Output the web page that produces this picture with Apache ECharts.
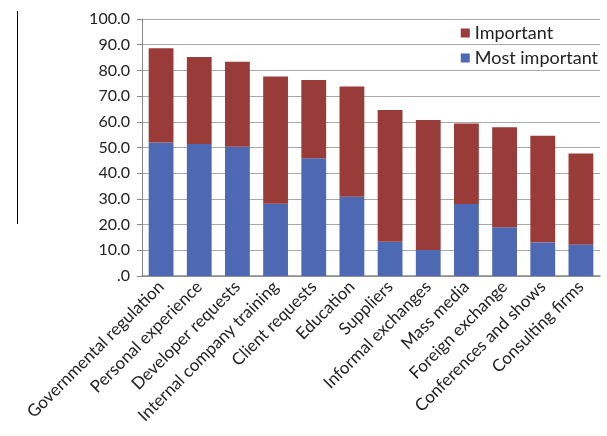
<!DOCTYPE html>
<html><head><meta charset="utf-8">
<script src="https://cdn.jsdelivr.net/npm/echarts@6/dist/echarts.min.js"></script>
<style>html,body{margin:0;padding:0;background:#fff}#c{width:607px;height:436px}</style>
</head><body><div id="c"></div>
<script>
const categories = ["Governmental regulation","Personal experience","Developer requests","Internal company training","Client requests","Education","Suppliers","Informal exchanges","Mass media","Foreign exchange","Conferences and shows","Consulting firms"];
const mostImportant = [51.9, 51.4, 50.3, 28.1, 45.8, 30.8, 13.3, 10.1, 28.0, 19.0, 13.1, 12.3];
const important = [36.7, 33.8, 33.1, 49.5, 30.5, 42.9, 51.3, 50.6, 31.3, 38.9, 41.5, 35.4];
const yTicks = [0, 10, 20, 30, 40, 50, 60, 70, 80, 90, 100];

const chart = echarts.init(document.getElementById('c'));
const font = 'Lato, "Open Sans", sans-serif';
chart.setOption({
  animation: false,
  backgroundColor: '#fff',
  grid: {left: 142, right: 7, top: 19, bottom: 160},
  legend: {
    data: ['Important', 'Most important'],
    orient: 'vertical', right: 4, top: 19,
    itemWidth: 9, itemHeight: 9, itemGap: 7,
    icon: 'rect',
    textStyle: {fontFamily: font, fontSize: 18, color: '#222'}
  },
  xAxis: {
    type: 'category', data: categories,
    axisLine: {lineStyle: {color: '#888', width: 1.5}},
    axisTick: {show: false},
    axisLabel: {rotate: 45, fontFamily: font, fontSize: 17, color: '#222', margin: 8, interval: 0}
  },
  yAxis: {
    type: 'value', min: 0, max: 100, interval: 10,
    axisLine: {show: true, lineStyle: {color: '#888', width: 1}},
    axisTick: {show: true, length: 5, lineStyle: {color: '#888'}},
    splitLine: {lineStyle: {color: '#a8a8a8', width: 1.2}},
    axisLabel: {
      fontFamily: font, fontSize: 16, color: '#222', margin: 12,
      formatter: v => yTicks.includes(v) ? (v === 0 ? '.0' : v.toFixed(1)) : ''
    }
  },
  series: [
    {name: 'Most important', type: 'bar', stack: 's', data: mostImportant,
     barCategoryGap: '35%', itemStyle: {color: '#4e69b3'}},
    {name: 'Important', type: 'bar', stack: 's', data: important,
     barCategoryGap: '35%', itemStyle: {color: '#993b38'}}
  ],
  graphic: [{
    type: 'line', shape: {x1: 17.5, y1: 11, x2: 17.5, y2: 224},
    style: {stroke: '#000', lineWidth: 1}
  }]
});
</script></body></html>
